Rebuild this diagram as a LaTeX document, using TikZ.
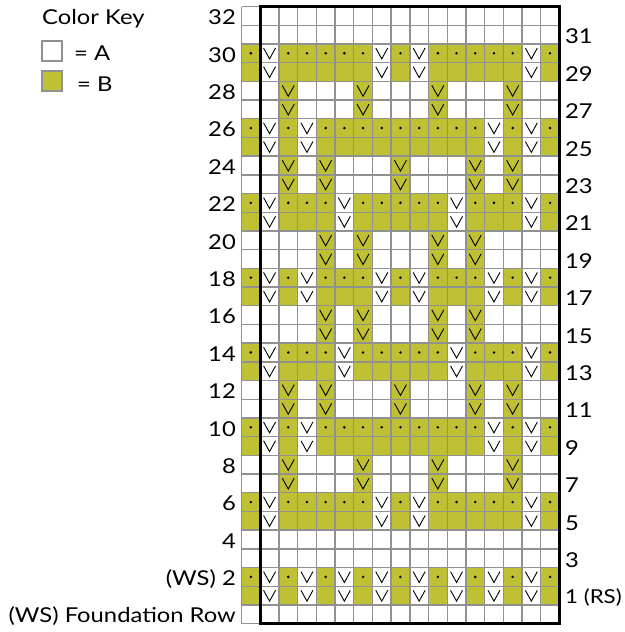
\documentclass[tikz,border=0pt]{standalone}
\usepackage{fontspec}
\setmainfont{Lato}[FakeStretch=1.16]
\definecolor{kgreen}{RGB}{191,192,51}
\definecolor{kgrid}{RGB}{145,145,145}
\begin{document}
\begin{tikzpicture}[x=1pt,y=-1pt,
  gl/.style={draw=kgrid,line width=1.4pt},
  vm/.style={draw=black,line width=0.9pt,line join=miter},
  lbl/.style={font=\fontsize{20.5}{24}\selectfont,inner sep=0pt},
  keybox/.style={draw=kgrid,line width=1.4pt}]
\def\X{241.5}
\def\Y{6.5}
\def\W{18.7}
\useasboundingbox (0,0) rectangle (624,632);
\fill[white] (0,0) rectangle (624,632);
% rows: number / type (1 dot row, 2 green row, 3 white row) / V columns
\foreach \rn/\t/\vl in {
  30/1/{2,8,10,16}, 29/2/{2,8,10,16}, 28/3/{3,7,11,15}, 27/3/{3,7,11,15},
  26/1/{2,4,14,16}, 25/2/{2,4,14,16}, 24/3/{3,5,9,13,15}, 23/3/{3,5,9,13,15},
  22/1/{2,6,12,16}, 21/2/{2,6,12,16}, 20/3/{5,7,11,13}, 19/3/{5,7,11,13},
  18/1/{2,4,8,10,14,16}, 17/2/{2,4,8,10,14,16}, 16/3/{5,7,11,13}, 15/3/{5,7,11,13},
  14/1/{2,6,12,16}, 13/2/{2,6,12,16}, 12/3/{3,5,9,13,15}, 11/3/{3,5,9,13,15},
  10/1/{2,4,14,16}, 9/2/{2,4,14,16}, 8/3/{3,7,11,15}, 7/3/{3,7,11,15},
  6/1/{2,8,10,16}, 5/2/{2,8,10,16},
  2/1/{2,4,6,8,10,12,14,16}, 1/2/{2,4,6,8,10,12,14,16}}{
  \pgfmathsetmacro\yt{\Y+(32-\rn)*\W}
  \ifnum\t<3
    \fill[kgreen] (\X,\yt) rectangle ++({17*\W},\W);
    \ifnum\t=1
      \foreach \c in {1,...,17}
        \fill[black] ({\X+(\c-0.5)*\W},{\yt+0.5*\W}) circle (1.4);
    \fi
    \foreach \c in \vl {
      \fill[white] ({\X+(\c-1)*\W},\yt) rectangle ++(\W,\W);
      \draw[vm] ({\X+(\c-0.82)*\W},{\yt+0.22*\W}) -- ({\X+(\c-0.5)*\W},{\yt+0.8*\W}) -- ({\X+(\c-0.18)*\W},{\yt+0.22*\W});
    }
  \else
    \foreach \c in \vl {
      \fill[kgreen] ({\X+(\c-1)*\W},\yt) rectangle ++(\W,\W);
      \draw[vm] ({\X+(\c-0.82)*\W},{\yt+0.22*\W}) -- ({\X+(\c-0.5)*\W},{\yt+0.8*\W}) -- ({\X+(\c-0.18)*\W},{\yt+0.22*\W});
    }
  \fi
}
% grid lines
\foreach \i in {0,...,17}
  \draw[gl] ({\X+\i*\W},\Y) -- ++(0,{33*\W});
\foreach \j in {0,...,33}
  \draw[gl] (\X,{\Y+\j*\W}) -- ++({17*\W},0);
% thick repeat border
\draw[line width=3pt] ({\X+\W},\Y) rectangle ({\X+17*\W},{\Y+33*\W});
% left labels
\foreach \rn in {32,30,...,4}
  \node[lbl,anchor=base east] (L\rn) at (236,{\Y+(33-\rn)*\W-0.5}) {\rn};
\node[lbl,anchor=base east] (L2) at (236,{\Y+31*\W-0.5}) {(WS) 2};
\node[lbl,anchor=base east] (L0) at (236,{\Y+33*\W-1.5}) {(WS) Foundation Row};
% right labels
\foreach \rn in {31,29,...,3}
  \node[lbl,anchor=base west] (R\rn) at (565,{\Y+(33-\rn)*\W}) {\rn};
\node[lbl,anchor=base west,font=\fontsize{19.2}{22}\selectfont] (R1) at (565,{\Y+32*\W-1}) {1 (RS)};
% color key
\node[lbl,anchor=base west] (key) at (42,24) {Color Key};
\draw[keybox,fill=white] (42,41) rectangle (62,61);
\node[lbl,anchor=base west] (ka) at (74,60) {= A};
\draw[keybox,fill=kgreen] (42,71) rectangle (62,91);
\node[lbl,anchor=base west] (kb) at (77,91) {= B};
\end{tikzpicture}
\end{document}
